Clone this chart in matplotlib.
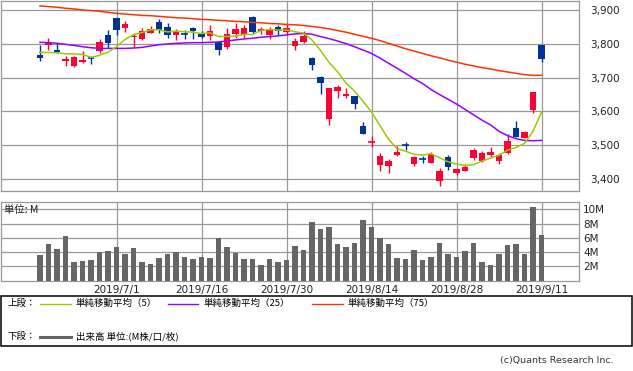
import matplotlib
matplotlib.use('Agg')
import matplotlib.pyplot as plt
import numpy as np
import pandas as pd
from matplotlib.patches import Rectangle
from matplotlib.lines import Line2D

plt.rcParams['font.family'] = ['DejaVu Sans', 'Noto Sans CJK JP']
CJK = ['Noto Sans CJK JP', 'DejaVu Sans']

# ---- data -------------------------------------------------------------
holidays = ['2019-07-15', '2019-08-12']
dates = [d for d in pd.bdate_range('2019-06-18', '2019-09-11')
         if d.strftime('%Y-%m-%d') not in holidays]

opens = [3767, 3797, 3782, 3750, 3735, 3746, 3758, 3780, 3828, 3877,
         3848, 3820, 3815, 3832, 3864, 3850, 3828, 3832, 3847, 3831,
         3825, 3805, 3792, 3830, 3828, 3881, 3839, 3828, 3850, 3837,
         3795, 3807, 3759, 3703, 3577, 3660, 3646, 3646, 3557, 3509,
         3442, 3438, 3471, 3500, 3444, 3459, 3448, 3394, 3466, 3418,
         3424, 3463, 3454, 3471, 3454, 3477, 3551, 3522, 3604, 3797]
highs = [3797, 3818, 3802, 3764, 3764, 3779, 3765, 3815, 3841, 3877,
         3868, 3834, 3847, 3853, 3874, 3861, 3845, 3841, 3851, 3838,
         3856, 3805, 3847, 3863, 3856, 3884, 3850, 3850, 3857, 3861,
         3817, 3839, 3762, 3705, 3670, 3679, 3669, 3646, 3569, 3527,
         3477, 3460, 3496, 3509, 3468, 3467, 3480, 3433, 3470, 3432,
         3444, 3492, 3482, 3494, 3477, 3532, 3573, 3543, 3658, 3797]
lows = [3750, 3782, 3772, 3736, 3733, 3743, 3741, 3774, 3789, 3828,
        3835, 3792, 3812, 3832, 3834, 3819, 3813, 3816, 3816, 3819,
        3813, 3767, 3786, 3819, 3819, 3832, 3831, 3816, 3828, 3827,
        3782, 3804, 3723, 3652, 3560, 3641, 3641, 3607, 3534, 3494,
        3424, 3418, 3468, 3485, 3439, 3448, 3448, 3380, 3426, 3411,
        3424, 3456, 3451, 3466, 3443, 3474, 3525, 3520, 3594, 3746]
closes = [3759, 3802, 3775, 3756, 3761, 3753, 3756, 3806, 3804, 3842,
          3860, 3825, 3839, 3845, 3842, 3828, 3837, 3830, 3839, 3822,
          3838, 3782, 3830, 3845, 3847, 3836, 3844, 3842, 3839, 3847,
          3810, 3824, 3739, 3685, 3670, 3672, 3653, 3622, 3534, 3511,
          3468, 3453, 3480, 3498, 3464, 3457, 3473, 3422, 3436, 3430,
          3436, 3485, 3477, 3480, 3470, 3512, 3525, 3539, 3658, 3755]
volume_m = [3.58, 5.12, 4.42, 6.23, 2.60, 2.74, 2.88, 4.00, 4.14, 4.70,
            3.72, 4.56, 2.60, 2.33, 3.16, 3.72, 4.00, 3.30, 3.02, 3.30,
            3.16, 5.95, 4.70, 3.86, 3.02, 3.02, 2.19, 3.02, 2.60, 2.88,
            4.84, 4.28, 8.19, 7.20, 7.50, 5.20, 4.75, 5.30, 8.50, 7.50,
            6.00, 5.20, 3.20, 3.00, 4.30, 2.90, 3.30, 5.30, 3.70, 3.30,
            4.10, 5.30, 2.60, 2.20, 3.70, 5.00, 5.10, 3.70, 10.30, 6.40]
# SMA(5) values for the first four sessions (need earlier history)
sma5_head = [3775, 3775, 3774, 3771]
sma25 = [3805, 3804, 3802, 3799, 3796, 3792, 3789, 3787, 3787, 3787,
         3787, 3788, 3790, 3794, 3798, 3800, 3802, 3803, 3804, 3804,
         3805, 3806, 3809, 3812, 3815, 3817, 3820, 3822, 3824, 3827,
         3830, 3831, 3829, 3822, 3816, 3809, 3801, 3792, 3782, 3772,
         3758, 3743, 3728, 3713, 3697, 3683, 3665, 3650, 3636, 3622,
         3606, 3590, 3574, 3560, 3541, 3528, 3519, 3514, 3513, 3514]
sma75 = [3913, 3911, 3909, 3906, 3904, 3901, 3899, 3897, 3894, 3891,
         3889, 3887, 3885, 3884, 3882, 3880, 3878, 3877, 3875, 3873,
         3872, 3870, 3869, 3867, 3866, 3864, 3863, 3861, 3860, 3858,
         3857, 3855, 3852, 3849, 3845, 3840, 3835, 3829, 3823, 3817,
         3810, 3802, 3794, 3786, 3779, 3772, 3765, 3759, 3752, 3746,
         3740, 3735, 3730, 3726, 3721, 3717, 3713, 3709, 3707, 3707]
tick_dates = ['2019-07-01', '2019-07-16', '2019-07-30', '2019-08-14', '2019-08-28', '2019-09-11']
tick_labels = ['2019/7/1', '2019/7/16', '2019/7/30', '2019/8/14', '2019/8/28', '2019/9/11']
price_ticks = [3400, 3500, 3600, 3700, 3800, 3900]
vol_ticks = [2, 4, 6, 8, 10]
vol_labels = ['2M', '4M', '6M', '8M', '10M']

legend_top = ['単純移動平均（5）', '単純移動平均（25）', '単純移動平均（75）']
legend_bottom = '出来高 単位:(M株/口/枚)'

# ---- derived ------------------------------------------------------------
n = len(closes)
x = np.arange(n)
sma5 = pd.Series(closes, dtype=float).rolling(5).mean().to_numpy()
sma5[:4] = sma5_head
date_str = [d.strftime('%Y-%m-%d') for d in dates]
tick_idx = [date_str.index(t) for t in tick_dates]

RED = '#FF0033'
BLUE = '#003399'
C5, C25, C75 = '#99CC00', '#9900FF', '#FF3300'
GRID = '#999999'

W, H = 633, 371
def fx(v): return v / W
def fy(v): return 1 - v / H

fig = plt.figure(figsize=(W / 100, H / 100), dpi=100)
ax = fig.add_axes([fx(1), fy(190.7), 578 / W, 189.7 / H])
axv = fig.add_axes([fx(1), fy(280.7), 578 / W, 79 / H])

xl = (-39 / 8.5, -39 / 8.5 + 578 / 8.5)

# ---- price panel --------------------------------------------------------
for i in range(n):
    o, h, l, c = opens[i], highs[i], lows[i], closes[i]
    col = RED if c >= o else BLUE
    ax.vlines(i, l, h, color=col, lw=1.0, zorder=3)
    if abs(c - o) < 3:
        ax.hlines((o + c) / 2, i - 0.36, i + 0.36, color=col, lw=1.2, zorder=3)
    else:
        ax.bar(i, abs(c - o), bottom=min(o, c), width=0.72, color=col,
               lw=0, zorder=3)

ax.plot(x, sma75, color=C75, lw=1.1, zorder=4)
ax.plot(x, sma25, color=C25, lw=1.1, zorder=4)
ax.plot(x, sma5, color=C5, lw=1.1, zorder=4)

ax.set_xlim(*xl)
ax.set_ylim(3364.7, 3927.6)
ax.set_yticks(price_ticks)
ax.set_yticklabels([f'{p:,}' for p in price_ticks])
ax.yaxis.tick_right()
ax.tick_params(axis='y', length=0, pad=8, labelsize=7.5, labelcolor='#222222')
ax.set_xticks(tick_idx)
ax.tick_params(axis='x', length=0, labelbottom=False)
ax.grid(True, color=GRID, lw=0.9)
ax.set_axisbelow(True)
for s in ax.spines.values():
    s.set_color(GRID)
    s.set_linewidth(0.9)

# ---- volume panel -------------------------------------------------------
axv.bar(x, volume_m, width=0.7, color='#666666', lw=0, zorder=3)
axv.set_xlim(*xl)
axv.set_ylim(0, 11.05)
axv.set_yticks(vol_ticks)
axv.set_yticklabels(vol_labels)
axv.yaxis.tick_right()
axv.tick_params(axis='y', length=0, pad=3, labelsize=7.5, labelcolor='#222222')
axv.set_xticks(tick_idx)
axv.set_xticklabels(tick_labels)
axv.tick_params(axis='x', length=0, pad=3, labelsize=7.5, labelcolor='#222222')
axv.grid(True, color=GRID, lw=0.9)
axv.set_axisbelow(True)
for s in axv.spines.values():
    s.set_color(GRID)
    s.set_linewidth(0.9)
fig.text(fx(4), fy(210), '単位: M', ha='left', va='center', fontsize=7.5,
         family=CJK, color='#222222')

# ---- legend box ---------------------------------------------------------
fig.add_artist(Rectangle((fx(1), fy(346)), 631 / W, (346 - 295.7) / H,
                         transform=fig.transFigure, fill=False,
                         ec='black', lw=1.1))
ly1, ly2 = 303.5, 336.5
fig.text(fx(8), fy(ly1), '上段：', ha='left', va='center', fontsize=6.8, family=CJK)
for (x0, x1, tx), col, lab in zip([(40, 71, 76), (168, 198, 203), (312, 343, 348)],
                                  [C5, C25, C75], legend_top):
    fig.add_artist(Line2D([fx(x0), fx(x1)], [fy(ly1)] * 2,
                          transform=fig.transFigure, color=col, lw=1.0))
    fig.text(fx(tx), fy(ly1), lab, ha='left', va='center', fontsize=6.8, family=CJK)
fig.text(fx(8), fy(ly2), '下段：', ha='left', va='center', fontsize=6.8, family=CJK)
fig.add_artist(Line2D([fx(40), fx(71)], [fy(ly2)] * 2,
                      transform=fig.transFigure, color='#666666', lw=2.2))
fig.text(fx(76), fy(ly2), legend_bottom, ha='left', va='center', fontsize=6.8, family=CJK)

fig.text(fx(614), fy(361), '(c)Quants Research Inc.', ha='right', va='center',
         fontsize=6.8, color='#333333')

fig.savefig('out.png', dpi=100)
